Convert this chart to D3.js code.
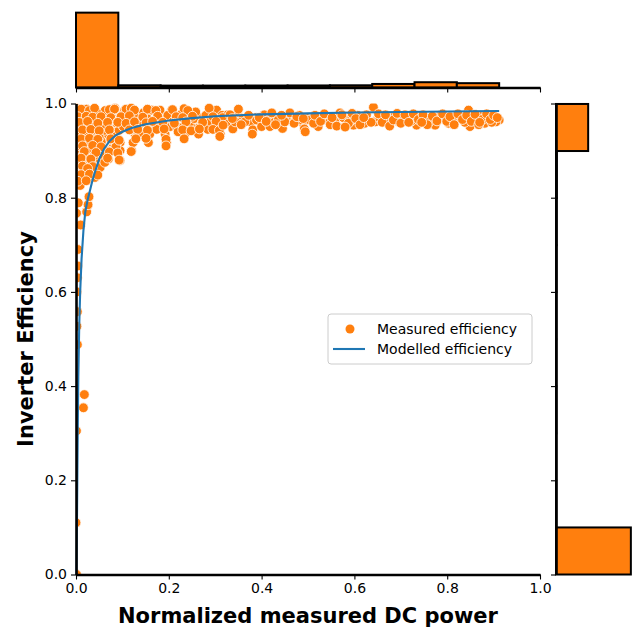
<!DOCTYPE html>
<html>
<head>
<meta charset="utf-8">
<script src="https://cdn.jsdelivr.net/npm/d3@7"></script>
<style>
  body { margin: 0; background: #fff; }
  svg { font-family: "DejaVu Sans", sans-serif; }
</style>
</head>
<body>
<div id="chart"></div>
<script>
// ---- data ----
const xTicks = [0, 0.2, 0.4, 0.6, 0.8, 1.0];
const yTicks = [0, 0.2, 0.4, 0.6, 0.8, 1.0];

// marginal histograms (counts relative, bins of the original plot)
const powerBinEdges = [0, 0.0912, 0.1824, 0.2736, 0.3648, 0.456, 0.5472, 0.6384, 0.7296, 0.8208, 0.912];
const powerBinCounts = [950, 28, 24, 24, 25, 26, 28, 45, 67, 55];
const effBinEdges = [0, 0.0999, 0.1998, 0.2997, 0.3996, 0.4995, 0.5994, 0.6993, 0.7992, 0.8991, 0.999];
const effBinCounts = [868, 2, 1, 3, 2, 3, 5, 6, 9, 373];

// measured points [power, efficiency]
const startupPoints = [
  [0.0, 0.0], [0.001, 0.0], [0.0, 0.11], [0.001, 0.305], [0.003, 0.488], [0.002, 0.527],
  [0.003, 0.558], [0.002, 0.60], [0.003, 0.63], [0.004, 0.655], [0.004, 0.69],
  [0.001, 0.767], [0.010, 0.742], [0.005, 0.789], [0.023, 0.77], [0.026, 0.785],
  [0.028, 0.802], [0.018, 0.382], [0.016, 0.354],
  [0.0, 0.99], [0.001, 0.96], [0.0, 0.93], [0.002, 0.90], [0.0, 0.87], [0.001, 0.85]
];
const lowPoints = [
  [0.005, 0.986], [0.023, 0.988], [0.037, 0.984], [0.077, 0.987], [0.084, 0.99], [0.012, 0.972],
  [0.03, 0.97], [0.055, 0.973], [0.08, 0.968], [0.098, 0.975], [0.001, 0.952], [0.019, 0.95],
  [0.041, 0.955], [0.073, 0.951], [0.091, 0.948], [0.009, 0.935], [0.019, 0.932], [0.044, 0.937],
  [0.066, 0.934], [0.084, 0.93], [0.001, 0.917], [0.016, 0.915], [0.03, 0.918], [0.055, 0.92],
  [0.08, 0.914], [0.095, 0.917], [0.005, 0.90], [0.026, 0.898], [0.048, 0.902], [0.07, 0.899],
  [0.095, 0.90], [0.009, 0.882], [0.026, 0.884], [0.044, 0.88], [0.07, 0.882], [0.095, 0.879],
  [0.019, 0.866], [0.052, 0.864], [0.009, 0.845], [0.023, 0.847], [0.041, 0.843], [0.009, 0.826],
  [0.014, 0.96], [0.027, 0.945], [0.034, 0.925], [0.048, 0.965], [0.061, 0.943], [0.063, 0.985],
  [0.088, 0.958], [0.012, 0.908], [0.04, 0.89], [0.058, 0.891], [0.017, 0.978], [0.006, 0.965],
  [0.032, 0.958], [0.05, 0.928], [0.075, 0.923], [0.086, 0.908], [0.003, 0.88], [0.015, 0.89],
  [0.062, 0.875], [0.035, 0.87], [0.069, 0.96], [0.093, 0.965], [0.022, 0.94], [0.045, 0.98],
  [0.057, 0.952]
];
const lowPointsExtra = [
  [0.011, 0.988], [0.029, 0.985], [0.04, 0.99], [0.072, 0.987], [0.083, 0.988],
  [0.004, 0.972], [0.022, 0.973], [0.036, 0.971], [0.054, 0.972], [0.075, 0.97], [0.097, 0.972],
  [0.007, 0.96], [0.025, 0.962], [0.047, 0.958], [0.068, 0.96], [0.09, 0.961],
  [0.014, 0.944], [0.032, 0.945], [0.05, 0.942], [0.072, 0.944], [0.093, 0.943],
  [0.011, 0.925], [0.029, 0.926], [0.047, 0.924], [0.075, 0.925], [0.093, 0.922],
  [0.014, 0.91], [0.036, 0.911], [0.054, 0.908], [0.018, 0.898], [0.043, 0.896],
  [0.072, 0.897], [0.09, 0.895], [0.011, 0.884], [0.032, 0.882], [0.068, 0.884], [0.093, 0.88],
  [0.014, 0.867], [0.036, 0.866], [0.025, 0.862], [0.011, 0.849], [0.029, 0.85], [0.047, 0.848],
  [0.004, 0.835], [0.022, 0.836]
];
const midPoints = [
  [0.102, 0.951], [0.105, 0.986], [0.113, 0.971], [0.12, 0.90], [0.123, 0.917], [0.127, 0.935],
  [0.131, 0.971], [0.134, 0.951], [0.141, 0.935], [0.152, 0.971], [0.156, 0.951], [0.156, 0.917],
  [0.159, 0.935], [0.163, 0.986], [0.177, 0.971], [0.181, 0.986], [0.192, 0.935], [0.195, 0.917],
  [0.203, 0.951], [0.206, 0.986], [0.217, 0.951], [0.224, 0.971], [0.232, 0.951], [0.235, 0.935],
  [0.235, 0.986], [0.239, 0.986], [0.242, 0.971], [0.249, 0.951], [0.264, 0.935], [0.264, 0.971],
  [0.267, 0.951], [0.289, 0.986], [0.296, 0.951], [0.296, 0.971], [0.303, 0.986], [0.311, 0.935],
  [0.321, 0.971], [0.11, 0.96], [0.118, 0.944], [0.138, 0.962], [0.145, 0.98], [0.17, 0.958],
  [0.174, 0.945], [0.185, 0.965], [0.198, 0.975], [0.21, 0.962], [0.22, 0.94], [0.228, 0.978],
  [0.245, 0.96], [0.255, 0.968], [0.258, 0.982], [0.272, 0.96], [0.28, 0.975], [0.284, 0.945],
  [0.29, 0.962], [0.306, 0.958], [0.315, 0.975]
];
const midPointsExtra = [
  [0.108, 0.988], [0.119, 0.99], [0.126, 0.986], [0.154, 0.988], [0.172, 0.985], [0.208, 0.987],
  [0.233, 0.989], [0.241, 0.985], [0.287, 0.99], [0.327, 0.976], [0.348, 0.978], [0.374, 0.968],
  [0.406, 0.976], [0.438, 0.966], [0.481, 0.975], [0.503, 0.97],
  [0.097, 0.972], [0.115, 0.974], [0.144, 0.971], [0.176, 0.973], [0.216, 0.972], [0.23, 0.97],
  [0.251, 0.973], [0.295, 0.972], [0.316, 0.97], [0.338, 0.966], [0.359, 0.968], [0.388, 0.97],
  [0.417, 0.967], [0.431, 0.97], [0.453, 0.968], [0.474, 0.966], [0.496, 0.969],
  [0.09, 0.96], [0.108, 0.958], [0.126, 0.961], [0.151, 0.959], [0.165, 0.962], [0.187, 0.96],
  [0.212, 0.958], [0.237, 0.961], [0.273, 0.96], [0.302, 0.962], [0.33, 0.958], [0.352, 0.96],
  [0.377, 0.961], [0.402, 0.959], [0.427, 0.96], [0.449, 0.962], [0.489, 0.959],
  [0.115, 0.944], [0.133, 0.945], [0.154, 0.943], [0.19, 0.946], [0.23, 0.944], [0.248, 0.942],
  [0.266, 0.946], [0.295, 0.945], [0.309, 0.943], [0.338, 0.946], [0.381, 0.944], [0.445, 0.947],
  [0.492, 0.946], [0.129, 0.925], [0.151, 0.926], [0.194, 0.924], [0.233, 0.925], [0.194, 0.91],
  [0.119, 0.898]
];
const highPoints = [
  [0.31, 0.93], [0.317, 0.954], [0.332, 0.976], [0.343, 0.961], [0.35, 0.988], [0.364, 0.961],
  [0.38, 0.935], [0.389, 0.965], [0.40, 0.951], [0.418, 0.951], [0.422, 0.98], [0.436, 0.965],
  [0.45, 0.961], [0.461, 0.98], [0.483, 0.965], [0.494, 0.94], [0.504, 0.965], [0.522, 0.951],
  [0.54, 0.965], [0.558, 0.961], [0.569, 0.98], [0.583, 0.965], [0.598, 0.954], [0.616, 0.965],
  [0.63, 0.961], [0.641, 0.992], [0.648, 0.965], [0.645, 0.961], [0.662, 0.972], [0.68, 0.97],
  [0.695, 0.961], [0.713, 0.972], [0.734, 0.954], [0.752, 0.968], [0.774, 0.954], [0.795, 0.968],
  [0.81, 0.961], [0.828, 0.968], [0.846, 0.986], [0.849, 0.951], [0.864, 0.965], [0.881, 0.958],
  [0.889, 0.972], [0.912, 0.965], [0.905, 0.961],
  [0.337, 0.968], [0.356, 0.955], [0.372, 0.975], [0.395, 0.97], [0.41, 0.962], [0.43, 0.955],
  [0.443, 0.975], [0.47, 0.958], [0.476, 0.972], [0.49, 0.968], [0.512, 0.958], [0.53, 0.972],
  [0.548, 0.955], [0.576, 0.97], [0.59, 0.962], [0.607, 0.975], [0.622, 0.958], [0.655, 0.968],
  [0.671, 0.958], [0.688, 0.975], [0.704, 0.966], [0.722, 0.962], [0.743, 0.972], [0.762, 0.962],
  [0.785, 0.975], [0.803, 0.958], [0.818, 0.975], [0.838, 0.96], [0.856, 0.97], [0.872, 0.975],
  [0.896, 0.96]
];
const highPointsExtra = [
  [0.515, 0.975], [0.527, 0.962], [0.535, 0.978], [0.552, 0.97], [0.562, 0.952], [0.573, 0.976],
  [0.587, 0.958], [0.595, 0.979], [0.603, 0.968], [0.612, 0.955], [0.626, 0.976], [0.636, 0.96],
  [0.652, 0.978], [0.66, 0.96], [0.667, 0.976], [0.676, 0.952], [0.684, 0.965], [0.692, 0.979],
  [0.70, 0.958], [0.709, 0.976], [0.717, 0.96], [0.727, 0.978], [0.738, 0.966], [0.748, 0.976],
  [0.757, 0.955], [0.768, 0.973], [0.778, 0.963], [0.79, 0.978], [0.799, 0.962], [0.806, 0.972],
  [0.815, 0.955], [0.823, 0.978], [0.833, 0.966], [0.842, 0.975], [0.852, 0.962], [0.86, 0.977],
  [0.868, 0.955], [0.877, 0.967], [0.885, 0.978], [0.893, 0.966], [0.90, 0.975], [0.908, 0.97],
  [0.87, 0.96], [0.745, 0.96], [0.62, 0.97], [0.58, 0.95]
];

// modelled efficiency curve [power, efficiency]
const modelCurve = [
  [0.001, 0.0], [0.002, 0.10], [0.003, 0.22], [0.004, 0.33], [0.005, 0.42], [0.007, 0.53],
  [0.009, 0.60], [0.012, 0.67], [0.016, 0.73], [0.02, 0.77], [0.025, 0.795], [0.03, 0.815],
  [0.035, 0.835], [0.04, 0.852], [0.05, 0.882], [0.06, 0.903], [0.072, 0.92], [0.085, 0.932],
  [0.1, 0.94], [0.12, 0.948], [0.15, 0.956], [0.2, 0.964], [0.25, 0.969], [0.3, 0.973],
  [0.4, 0.977], [0.5, 0.979], [0.6, 0.981], [0.7, 0.982], [0.8, 0.983], [0.912, 0.984]
];

const measured = startupPoints.concat(lowPoints, lowPointsExtra, midPoints, midPointsExtra,
  highPoints, highPointsExtra);

// ---- layout ----
const svgWidth = 635;
const svgHeight = 629;
const main = { left: 76, right: 540, top: 103.5, bottom: 574.5 };
const gap = 16;
const margSize = 78.6;
const orange = "#ff7f0e";
const blue = "#1f77b4";

const svg = d3.select("#chart")
  .append("svg")
  .attr("width", svgWidth)
  .attr("height", svgHeight);

const xScale = d3.scaleLinear().domain([0, 1]).range([main.left, main.right]);
const yScale = d3.scaleLinear().domain([0, 1]).range([main.bottom, main.top]);

svg.append("defs").append("clipPath").attr("id", "plotClip")
  .append("rect")
  .attr("x", main.left).attr("y", main.top)
  .attr("width", main.right - main.left)
  .attr("height", main.bottom - main.top);

// scatter
svg.append("g")
  .attr("clip-path", "url(#plotClip)")
  .selectAll("circle")
  .data(measured)
  .enter()
  .append("circle")
  .attr("cx", d => xScale(d[0]))
  .attr("cy", d => yScale(d[1]))
  .attr("r", 4.9)
  .attr("fill", orange)
  .attr("stroke", "#fff")
  .attr("stroke-width", 0.8);

// model line
const line = d3.line().x(d => xScale(d[0])).y(d => yScale(d[1]));
svg.append("path")
  .datum(modelCurve)
  .attr("d", line)
  .attr("fill", "none")
  .attr("stroke", blue)
  .attr("stroke-width", 2.1);

function styleAxis(g, showLabels) {
  g.select(".domain").attr("stroke", "#000").attr("stroke-width", 2.6);
  g.selectAll(".tick line").attr("stroke", "#000").attr("stroke-width", 1.1);
  g.selectAll(".tick text").attr("fill", "#000").style("font-size", "14px")
    .style("font-family", "DejaVu Sans, sans-serif");
  if (!showLabels) g.selectAll(".tick text").remove();
}

// main axes
const xAxis = svg.append("g")
  .attr("transform", `translate(0, ${main.bottom})`)
  .call(d3.axisBottom(xScale).tickValues(xTicks).tickFormat(d3.format(".1f"))
    .tickSize(5).tickSizeOuter(0).tickPadding(4));
styleAxis(xAxis, true);

const yAxis = svg.append("g")
  .attr("transform", `translate(${main.left}, 0)`)
  .call(d3.axisLeft(yScale).tickValues(yTicks).tickFormat(d3.format(".1f"))
    .tickSize(5).tickSizeOuter(0).tickPadding(4));
styleAxis(yAxis, true);

// top marginal histogram
const topBottom = main.top - gap;
const topCountScale = d3.scaleLinear()
  .domain([0, d3.max(powerBinCounts) * 1.05])
  .range([topBottom, topBottom - margSize]);

svg.append("g").selectAll("rect")
  .data(powerBinCounts)
  .enter()
  .append("rect")
  .attr("x", (d, i) => xScale(powerBinEdges[i]))
  .attr("width", (d, i) => xScale(powerBinEdges[i + 1]) - xScale(powerBinEdges[i]))
  .attr("y", d => topCountScale(d))
  .attr("height", d => topBottom - topCountScale(d))
  .attr("fill", orange)
  .attr("stroke", "#000")
  .attr("stroke-width", 2);

const topAxis = svg.append("g")
  .attr("transform", `translate(0, ${topBottom})`)
  .call(d3.axisBottom(xScale).tickValues(xTicks).tickSize(5).tickSizeOuter(0));
styleAxis(topAxis, false);

// right marginal histogram
const rightLeft = main.right + gap;
const rightCountScale = d3.scaleLinear()
  .domain([0, d3.max(effBinCounts) * 1.05])
  .range([rightLeft, rightLeft + margSize]);

svg.append("g").selectAll("rect")
  .data(effBinCounts)
  .enter()
  .append("rect")
  .attr("x", rightLeft)
  .attr("width", d => rightCountScale(d) - rightLeft)
  .attr("y", (d, i) => yScale(effBinEdges[i + 1]))
  .attr("height", (d, i) => yScale(effBinEdges[i]) - yScale(effBinEdges[i + 1]))
  .attr("fill", orange)
  .attr("stroke", "#000")
  .attr("stroke-width", 2);

const rightAxis = svg.append("g")
  .attr("transform", `translate(${rightLeft}, 0)`)
  .call(d3.axisLeft(yScale).tickValues(yTicks).tickSize(5).tickSizeOuter(0));
styleAxis(rightAxis, false);

// axis labels
svg.append("text")
  .attr("x", (main.left + main.right) / 2)
  .attr("y", 623)
  .attr("text-anchor", "middle")
  .style("font-size", "21px")
  .style("font-weight", "bold")
  .text("Normalized measured DC power");

svg.append("text")
  .attr("transform", `translate(33, ${(main.top + main.bottom) / 2}) rotate(-90)`)
  .attr("text-anchor", "middle")
  .style("font-size", "21px")
  .style("font-weight", "bold")
  .text("Inverter Efficiency");

// legend
const legend = svg.append("g").attr("transform", "translate(328, 314)");
legend.append("rect")
  .attr("width", 204).attr("height", 50).attr("rx", 3)
  .attr("fill", "#fff").attr("fill-opacity", 0.8)
  .attr("stroke", "#cccccc").attr("stroke-width", 1);
legend.append("circle")
  .attr("cx", 22).attr("cy", 15).attr("r", 4.5).attr("fill", orange);
legend.append("line")
  .attr("x1", 5).attr("x2", 37).attr("y1", 35).attr("y2", 35)
  .attr("stroke", blue).attr("stroke-width", 2.1);
legend.append("text").attr("x", 49).attr("y", 20).style("font-size", "14px").text("Measured efficiency");
legend.append("text").attr("x", 49).attr("y", 40).style("font-size", "14px").text("Modelled efficiency");
</script>
</body>
</html>
